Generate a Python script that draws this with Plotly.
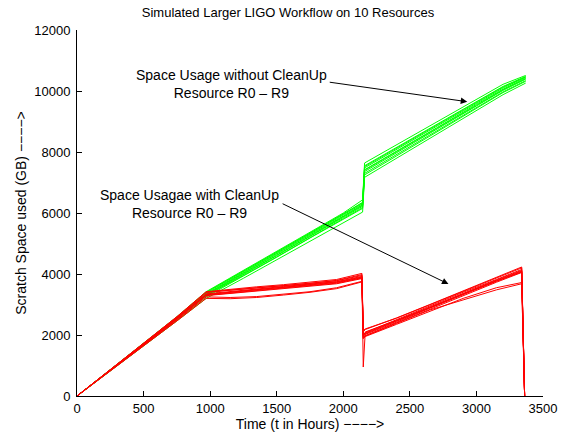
import plotly.graph_objects as go

# ---------------- data ----------------
resources = [f"R{i}" for i in range(10)]

# Space usage without CleanUp (green)
t_green = [0, 250, 500, 750, 970, 1250, 1500, 1750, 2000, 2145, 2160, 2400, 2700, 3000, 3200, 3370]
green = [
    [0, 860, 1710, 2580, 3380, 4080, 4700, 5330, 5950, 6330, 7550, 8150, 8900, 9650, 10150, 10480],
    [0, 840, 1690, 2540, 3330, 4020, 4640, 5280, 5900, 6270, 7480, 8090, 8840, 9600, 10100, 10450],
    [0, 850, 1700, 2560, 3350, 4050, 4680, 5300, 5920, 6300, 7420, 8040, 8790, 9560, 10060, 10420],
    [0, 830, 1670, 2510, 3290, 3970, 4600, 5230, 5850, 6220, 7360, 7980, 8740, 9510, 10020, 10390],
    [0, 870, 1730, 2600, 3420, 4110, 4740, 5370, 6000, 6430, 7640, 8230, 8970, 9720, 10220, 10510],
    [0, 820, 1650, 2480, 3250, 3930, 4550, 5180, 5800, 6150, 7300, 7920, 8680, 9450, 9970, 10340],
    [0, 850, 1690, 2550, 3320, 4000, 4620, 5250, 5870, 6250, 7400, 8020, 8770, 9530, 10040, 10400],
    [0, 810, 1640, 2460, 3200, 3860, 4470, 5090, 5700, 6030, 7170, 7800, 8580, 9360, 9880, 10260],
    [0, 860, 1720, 2590, 3400, 4090, 4720, 5340, 5970, 6350, 7520, 8120, 8870, 9630, 10130, 10460],
    [0, 840, 1680, 2530, 3300, 3950, 4560, 5200, 5820, 6180, 7250, 7870, 8640, 9420, 9950, 10320],
]

# Space usage with CleanUp (red)
t_red = [0, 250, 500, 750, 970, 1150, 1350, 1550, 1750, 1950, 2140, 2150, 2165, 2400, 2650, 2900, 3150, 3340, 3362]
red = [
    [0, 860, 1710, 2580, 3400, 3480, 3550, 3620, 3700, 3780, 3950, 2000, 2080, 2500, 2950, 3400, 3820, 4150, 0],
    [0, 840, 1690, 2540, 3330, 3400, 3480, 3560, 3640, 3720, 3880, 1950, 2020, 2420, 2880, 3330, 3760, 4080, 0],
    [0, 850, 1700, 2560, 3350, 3430, 3510, 3590, 3670, 3750, 3920, 950, 2100, 2480, 2920, 3370, 3800, 4120, 0],
    [0, 830, 1670, 2510, 3290, 3360, 3440, 3520, 3600, 3680, 3850, 1900, 1980, 2400, 2860, 3300, 3730, 4050, 0],
    [0, 870, 1730, 2600, 3420, 3500, 3580, 3650, 3730, 3820, 4020, 2100, 2180, 2560, 3000, 3450, 3880, 4230, 0],
    [0, 820, 1650, 2480, 3250, 3230, 3260, 3330, 3420, 3550, 3760, 1880, 1950, 2350, 2780, 3200, 3550, 3720, 0],
    [0, 850, 1690, 2550, 3320, 3410, 3490, 3570, 3650, 3740, 3900, 2000, 2060, 2460, 2900, 3350, 3790, 4100, 0],
    [0, 810, 1640, 2460, 3200, 3190, 3230, 3310, 3400, 3520, 3740, 1900, 1970, 2380, 2820, 3150, 3480, 3680, 0],
    [0, 860, 1720, 2590, 3400, 3470, 3540, 3610, 3690, 3790, 3980, 2150, 2200, 2550, 2990, 3430, 3860, 4200, 0],
    [0, 840, 1680, 2530, 3300, 3380, 3460, 3540, 3620, 3700, 3870, 1970, 2040, 2440, 2890, 3340, 3770, 4060, 0],
]

x_ticks = [0, 500, 1000, 1500, 2000, 2500, 3000, 3500]
x_tick_labels = ["0", "500", "1000", "1500", "2000", "2500", "3000", "3500"]
y_ticks = [0, 2000, 4000, 6000, 8000, 10000, 12000]
y_tick_labels = ["0", "2000", "4000", "6000", "8000", "10000", "12000"]

FONT = "Liberation Sans"
ARROW_TXT = "\u2212\u2212\u2212\u2212>"

fig = go.Figure()
for name, ys in zip(resources, green):
    fig.add_trace(go.Scatter(x=t_green, y=ys, mode="lines", name=name + " no cleanup",
                             line=dict(color="#00ff00", width=1), showlegend=False))
for name, ys in zip(resources, red):
    fig.add_trace(go.Scatter(x=t_red, y=ys, mode="lines", name=name + " cleanup",
                             line=dict(color="#ff0000", width=1), showlegend=False))

axis_common = dict(
    showgrid=False, zeroline=False, showline=True, linecolor="black", linewidth=1,
    ticks="inside", ticklen=5, tickcolor="black", tickwidth=1, mirror=False,
    automargin=False,
    tickfont=dict(family=FONT, size=13, color="black"),
)
fig.update_xaxes(range=[0, 3500], tickvals=x_ticks, ticktext=x_tick_labels, **axis_common,
                 title=dict(text="Time (t in Hours) " + ARROW_TXT,
                            font=dict(family=FONT, size=14, color="black"), standoff=2))
fig.update_yaxes(range=[0, 12000], tickvals=y_ticks, ticktext=y_tick_labels, ticklabelstandoff=3,
                 **axis_common,
                 title=dict(text="Scratch Space used (GB) " + ARROW_TXT,
                            font=dict(family=FONT, size=14, color="black"), standoff=4))

fig.update_layout(
    width=563, height=436,
    margin=dict(l=77, r=20, t=30, b=40),
    paper_bgcolor="white", plot_bgcolor="white",
    title=dict(text="Simulated Larger LIGO Workflow on 10 Resources",
               font=dict(family=FONT, size=13, color="black"),
               x=0.5115, xref="container", xanchor="center",
               y=0.971, yref="container", yanchor="middle"),
    font=dict(family=FONT, color="black"),
)

# text labels
fig.add_annotation(x=1157, y=10246, xref="x", yref="y", showarrow=False,
                   text="Space Usage without CleanUp<br>Resource R0 \u2013 R9",
                   font=dict(family=FONT, size=14, color="black"), align="center")
fig.add_annotation(x=848, y=6305, xref="x", yref="y", showarrow=False,
                   text="Space Usagae with CleanUp<br>Resource R0 \u2013 R9",
                   font=dict(family=FONT, size=14, color="black"), align="center")
# arrows
fig.add_annotation(x=2931, y=9649, ax=1887, ay=10295, xref="x", yref="y", axref="x", ayref="y",
                   text="", showarrow=True, arrowhead=2, arrowsize=1.3, arrowwidth=1, arrowcolor="black")
fig.add_annotation(x=2790, y=3672, ax=1533, ay=6328, xref="x", yref="y", axref="x", ayref="y",
                   text="", showarrow=True, arrowhead=2, arrowsize=1.3, arrowwidth=1, arrowcolor="black")

fig.write_html("out.html", config={"displayModeBar": False},
               post_script="document.body.style.margin='0px';")
